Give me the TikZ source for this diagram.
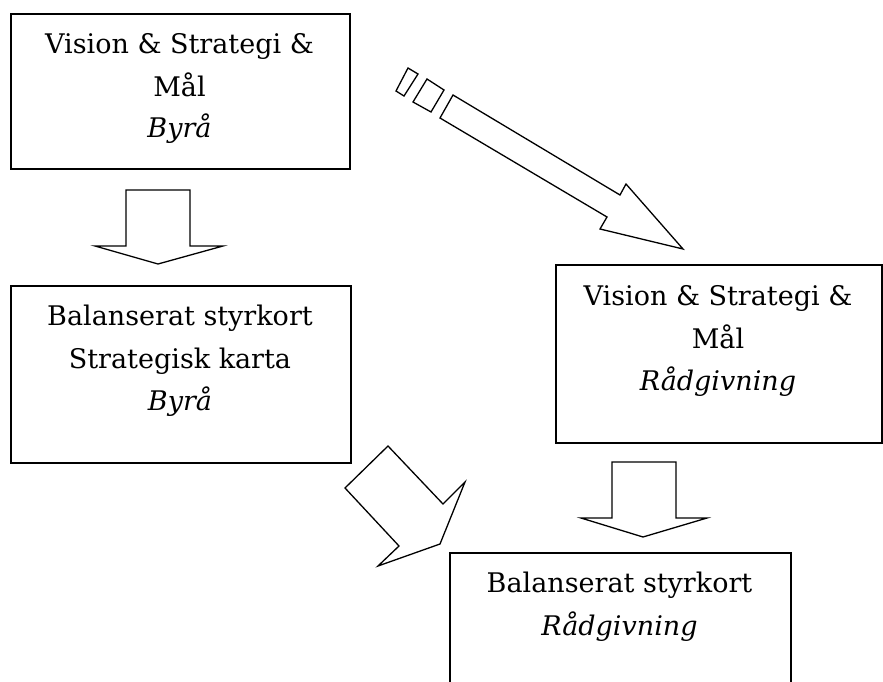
\documentclass[tikz,border=0pt]{standalone}
\usepackage{fontspec}
\setmainfont{DejaVu Serif}
\begin{document}
\begin{tikzpicture}[x=1pt,y=-1pt,
  box/.style={draw=black,line width=1.7pt,fill=white,inner sep=0pt,anchor=north west},
  txt/.style={anchor=base,inner sep=0pt,font=\fontsize{27}{32}\selectfont},
  blockarrow/.style={draw=black,line width=1.3pt,fill=white,line join=miter}]
\clip (0,0) rectangle (883,682);
\fill[white] (0,0) rectangle (883,682);

% boxes
\node[box,minimum width=339pt,minimum height=155pt] (visionB) at (10,13) {};
\node[box,minimum width=340pt,minimum height=177pt] (bscB) at (10,285) {};
\node[box,minimum width=326pt,minimum height=178pt] (visionR) at (555,264) {};
\node[box,minimum width=341pt,minimum height=160pt] (bscR) at (449,552) {};

% texts
\node[txt] (t1a) at (179.5,54) {Vision \& Strategi \&};
\node[txt] (t1b) at (179.5,97) {Mål};
\node[txt] (t1c) at (179.5,138) {\itshape Byrå};

\node[txt] (t2a) at (180,325) {Balanserat styrkort};
\node[txt] (t2b) at (180,368) {Strategisk karta};
\node[txt] (t2c) at (180,410) {\itshape Byrå};

\node[txt] (t3a) at (718,305) {Vision \& Strategi \&};
\node[txt] (t3b) at (718,348) {Mål};
\node[txt] (t3c) at (718,390) {\itshape Rådgivning};

\node[txt] (t4a) at (619.5,592) {Balanserat styrkort};
\node[txt] (t4b) at (619.5,635) {\itshape Rådgivning};

% block arrow: down, left column
\draw[blockarrow] (126,190) -- (190,190) -- (190,246) -- (223,246) -- (158,264)
  -- (95,246) -- (126,246) -- cycle;

% block arrow: down, right column
\draw[blockarrow] (612,462) -- (676,462) -- (676,518) -- (707,518) -- (643,537)
  -- (581,518) -- (612,518) -- cycle;

% block arrow: diagonal, towards the lower right box
\draw[blockarrow] (345,488) -- (388,446) -- (443,504) -- (465,482) -- (440,544)
  -- (378,566) -- (399,546) -- cycle;

% striped block arrow: diagonal, from top left to right box
\draw[blockarrow] (453,95) -- (620,195) -- (626,184) -- (683,249) -- (600,229)
  -- (607,217) -- (440,118) -- cycle;
\draw[blockarrow] (427,79) -- (444,90) -- (431,112) -- (413,102) -- cycle;
\draw[blockarrow] (408,68) -- (418,74) -- (404,96) -- (396,91) -- cycle;
\end{tikzpicture}
\end{document}
